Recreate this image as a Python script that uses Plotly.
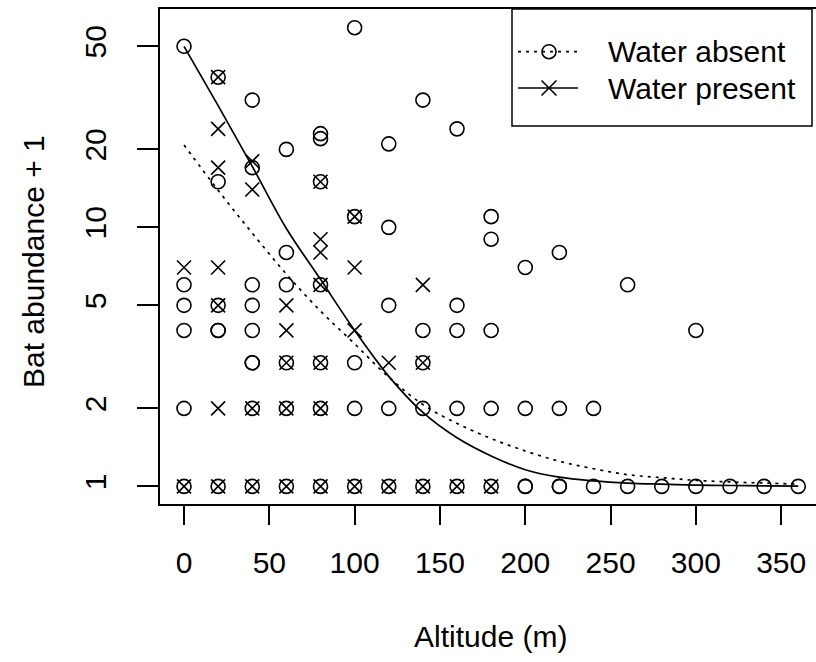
import plotly.graph_objects as go

# ---- data ----
absent_x = [0, 0, 0, 0, 0, 0,
            20, 20, 20, 20, 20, 20,
            40, 40, 40, 40, 40, 40, 40, 40, 40,
            60, 60, 60, 60, 60, 60,
            80, 80, 80, 80, 80, 80, 80,
            100, 100, 100, 100, 100,
            120, 120, 120, 120, 120,
            140, 140, 140, 140, 140,
            160, 160, 160, 160, 160,
            180, 180, 180, 180, 180,
            200, 200, 200, 200,
            220, 220, 220, 220,
            240, 240,
            260, 260,
            280, 300, 300, 320, 340, 360]
absent_y = [50, 6, 5, 4, 2, 1,
            38, 15, 5, 4, 4, 1,
            31, 17, 6, 5, 4, 3, 3, 2, 1,
            20, 8, 6, 3, 2, 1,
            23, 22, 15, 6, 3, 2, 1,
            59, 11, 3, 2, 1,
            21, 10, 5, 2, 1,
            31, 4, 3, 2, 1,
            24, 5, 4, 2, 1,
            11, 9, 4, 2, 1,
            7, 2, 1, 1,
            8, 2, 1, 1,
            2, 1,
            6, 1,
            1, 4, 1, 1, 1, 1]

present_x = [0, 0,
             20, 20, 20, 20, 20, 20, 20,
             40, 40, 40, 40,
             60, 60, 60, 60, 60,
             80, 80, 80, 80, 80, 80, 80,
             100, 100, 100, 100,
             120, 120,
             140, 140, 140,
             160, 180]
present_y = [7, 1,
             38, 24, 17, 7, 5, 2, 1,
             18, 14, 2, 1,
             5, 4, 3, 2, 1,
             15, 9, 8, 6, 3, 2, 1,
             11, 7, 4, 1,
             3, 1,
             6, 3, 1,
             1, 1]

# fitted curves
curve_x = [0, 20, 40, 60, 80, 100, 120, 140, 160, 180, 200, 220, 240, 260, 280, 300, 320, 340, 360]
curve_absent = [20.8, 13.9, 9.5, 6.6, 4.75, 3.55, 2.64, 2.07, 1.75, 1.53, 1.37, 1.25, 1.17, 1.11, 1.08,
                1.055, 1.04, 1.03, 1.02]
curve_present = [50, 29.5, 17.2, 9.9, 6.3, 4.0, 2.66, 1.93, 1.54, 1.31, 1.16, 1.085, 1.05, 1.03, 1.02,
                 1.012, 1.008, 1.005, 1.003]

x_ticks = [0, 50, 100, 150, 200, 250, 300, 350]
y_ticks = [1, 2, 5, 10, 20, 50]
legend_labels = ["Water absent", "Water present"]
x_title = "Altitude (m)"
y_title = "Bat abundance + 1"

FONT = "Liberation Sans, Arial, Helvetica, sans-serif"
FS = 30
W, H = 816, 662
L, T, B, R = 160, 9, 158, 0
PW, PH = W - L - R, H - T - B


def px(xp):
    return (xp - L) / PW


def py(yp):
    return (T + PH - yp) / PH


fig = go.Figure()
fig.add_trace(go.Scatter(x=curve_x, y=curve_absent, mode="lines", line_shape="spline",
                         line=dict(color="black", width=1.7, dash="3px,5px"), showlegend=False,
                         hoverinfo="skip"))
fig.add_trace(go.Scatter(x=curve_x, y=curve_present, mode="lines", line_shape="spline",
                         line=dict(color="black", width=1.7), showlegend=False, hoverinfo="skip"))
fig.add_trace(go.Scatter(x=absent_x, y=absent_y, mode="markers", name=legend_labels[0],
                         marker=dict(symbol="circle-open", size=14, color="black",
                                     line=dict(color="black", width=1.6)), showlegend=False))
fig.add_trace(go.Scatter(x=present_x, y=present_y, mode="markers", name=legend_labels[1],
                         marker=dict(symbol="x-thin-open", size=14, color="black",
                                     line=dict(color="black", width=1.6)), showlegend=False))

fig.update_xaxes(range=[-14.07, 370.4], tickvals=x_ticks, ticktext=[str(v) for v in x_ticks],
                 ticks="outside", ticklen=19, tickwidth=1.5, tickcolor="black",
                 showline=True, linewidth=1.5, linecolor="black", mirror=True,
                 showgrid=False, zeroline=False, automargin=False,
                 tickfont=dict(family=FONT, size=FS, color="black"), ticklabelstandoff=12)
fig.update_yaxes(type="log", range=[-0.068, 1.843], tickvals=y_ticks, ticktext=[str(v) for v in y_ticks],
                 ticks="outside", ticklen=21, tickwidth=1.5, tickcolor="black",
                 showline=True, linewidth=1.5, linecolor="black", mirror=False,
                 showgrid=False, zeroline=False, automargin=False, tickangle=-90,
                 tickfont=dict(family=FONT, size=FS, color="black"), ticklabelstandoff=19)

shapes = []
annotations = []
# legend box
shapes.append(dict(type="rect", xref="paper", yref="paper", x0=px(512), x1=px(812), y0=py(126), y1=py(9),
                   line=dict(color="black", width=1.5), fillcolor="white", layer="above"))
# legend row 1: dotted line with open circle
r1, r2 = 51.7, 88.0
shapes.append(dict(type="line", xref="paper", yref="paper", x0=px(518), x1=px(578), y0=py(r1), y1=py(r1),
                   line=dict(color="black", width=1.7, dash="3px,5px"), layer="above"))
shapes.append(dict(type="circle", xref="paper", yref="paper", x0=px(542), x1=px(556), y0=py(r1 + 7),
                   y1=py(r1 - 7), line=dict(color="black", width=1.6), fillcolor="rgba(0,0,0,0)",
                   layer="above"))
# legend row 2: solid line with X
shapes.append(dict(type="line", xref="paper", yref="paper", x0=px(518), x1=px(578), y0=py(r2), y1=py(r2),
                   line=dict(color="black", width=1.7), layer="above"))
shapes.append(dict(type="line", xref="paper", yref="paper", x0=px(541.5), x1=px(556.5), y0=py(r2 - 7.5),
                   y1=py(r2 + 7.5), line=dict(color="black", width=1.6), layer="above"))
shapes.append(dict(type="line", xref="paper", yref="paper", x0=px(541.5), x1=px(556.5), y0=py(r2 + 7.5),
                   y1=py(r2 - 7.5), line=dict(color="black", width=1.6), layer="above"))

for lab, r in zip(legend_labels, [r1, r2]):
    annotations.append(dict(text=lab, xref="paper", yref="paper", x=px(606), y=py(r), xanchor="left",
                            yanchor="middle", showarrow=False,
                            font=dict(family=FONT, size=FS, color="black")))

annotations.append(dict(text=x_title, xref="paper", yref="paper", x=px(490), y=py(636), xanchor="center",
                        yanchor="middle", showarrow=False, font=dict(family=FONT, size=FS, color="black")))
annotations.append(dict(text=y_title, xref="paper", yref="paper", x=px(33), y=py(262), xanchor="center",
                        yanchor="middle", showarrow=False, textangle=-90,
                        font=dict(family=FONT, size=FS, color="black")))

fig.update_layout(width=W, height=H, margin=dict(l=L, r=R, t=T, b=B, pad=0, autoexpand=False),
                  paper_bgcolor="white", plot_bgcolor="white", shapes=shapes, annotations=annotations,
                  showlegend=False)

fig.write_html("out.html", config={"displayModeBar": False})
